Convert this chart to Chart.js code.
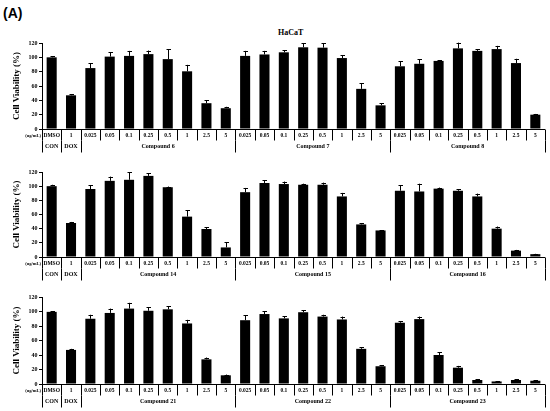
<!DOCTYPE html>
<html>
<head>
<meta charset="utf-8">
<script src="https://cdn.jsdelivr.net/npm/chart.js@4"></script>
<style>
  body { margin: 0; background: #fff; }
  #wrap { position: relative; width: 550px; height: 411px; overflow: hidden; background: #fff; }
  #wrap canvas { position: absolute; left: 0; }
  .lbl { position: absolute; white-space: nowrap; line-height: 1; color: #000; }
</style>
</head>
<body>
<div id="wrap">
  <div class="lbl" style="left:3px;top:5px;font:bold 14px 'Liberation Sans',Arial,sans-serif;">(A)</div>
  <div class="lbl" style="left:278px;top:28px;font:bold 8px 'Liberation Serif','Times New Roman',serif;">HaCaT</div>
  <canvas id="panel-1" width="550" height="117" style="top:36px"></canvas>
  <canvas id="panel-2" width="550" height="116" style="top:165px"></canvas>
  <canvas id="panel-3" width="550" height="118" style="top:290px"></canvas>
</div>
<script>
  const controlLabels = ['DMSO', '1'];
  const doseLabels = ['0.025', '0.05', '0.1', '0.25', '0.5', '1', '2.5', '5'];
  const yTicks = [0, 20, 40, 60, 80, 100, 120];

  const panel1Groups = ['CON', 'DOX', 'Compound 6', 'Compound 7', 'Compound 8'];
  const panel2Groups = ['CON', 'DOX', 'Compound 14', 'Compound 15', 'Compound 16'];
  const panel3Groups = ['CON', 'DOX', 'Compound 21', 'Compound 22', 'Compound 23'];

  // mean viability (%) per bar
  const panel1Values = [100, 47, 85, 101, 102, 104.5, 97.5, 80.5, 36, 29, 102, 104, 107, 114, 113.5, 99, 56, 33, 87.5, 91, 95, 112.5, 109, 111.5, 92, 20];
  const panel2Values = [100, 48, 96, 107.5, 109, 114.5, 98.5, 57, 39.5, 13.5, 91.5, 104.5, 103, 102, 102, 85.5, 46, 37.5, 93.5, 92.5, 96.5, 93.5, 85.5, 40, 9, 4];
  const panel3Values = [99.5, 47, 90, 98, 104, 101, 103, 83.5, 34, 12, 88, 96.5, 90.5, 99, 93, 89, 48.5, 24.5, 84.5, 89.5, 40, 22.5, 5.5, 3.5, 5.5, 4.5];

  // upper error bars
  const panel1Errors = [1.5, 1.5, 7, 6, 7, 5, 14, 9, 4, 2, 7, 5, 3, 6, 6, 4, 8, 3, 7, 6, 1, 8, 2, 4.5, 6, 1];
  const panel2Errors = [2, 1.5, 5, 6, 11, 4, 1, 9, 2.5, 7, 6, 4, 3.5, 1.5, 3, 5, 1.5, 0.5, 7.5, 11, 1.5, 2.5, 4, 3, 1, 0.5];
  const panel3Errors = [1, 1.5, 5.5, 6, 8, 5, 4, 5, 2.5, 1, 7, 4, 3, 3, 2.5, 4, 2.5, 1.5, 2, 3.5, 3.5, 2.5, 1, 0.5, 1, 1];

  const categories = controlLabels.concat(doseLabels, doseLabels, doseLabels);
  const SERIF = "'Liberation Serif', 'Times New Roman', serif";

  const errorBars = {
    id: 'errorBars',
    afterDatasetsDraw(chart, args, opts) {
      const { ctx } = chart;
      const y = chart.scales.y;
      const meta = chart.getDatasetMeta(0);
      const values = chart.data.datasets[0].data;
      ctx.save();
      ctx.strokeStyle = '#000';
      ctx.lineWidth = 1;
      meta.data.forEach((bar, i) => {
        const err = opts.errors[i];
        if (!err) return;
        const x = Math.round(bar.x) + 0.5;
        const top = y.getPixelForValue(values[i] + err);
        ctx.beginPath();
        ctx.moveTo(x, bar.y);
        ctx.lineTo(x, top);
        ctx.moveTo(x - 2, Math.round(top) + 0.5);
        ctx.lineTo(x + 2.5, Math.round(top) + 0.5);
        ctx.stroke();
      });
      ctx.restore();
    },
  };

  const doseTable = {
    id: 'doseTable',
    afterDraw(chart, args, opts) {
      const { ctx, chartArea } = chart;
      const x = chart.scales.x;
      const cell = (chartArea.right - chartArea.left) / categories.length;
      const edge = (i) => Math.round(chartArea.left + i * cell) + 0.5;
      const y0 = Math.round(chartArea.bottom) + 0.5;
      const row1 = y0 + 11;
      const row2 = y0 + 23;
      ctx.save();
      ctx.strokeStyle = '#000';
      ctx.fillStyle = '#000';
      ctx.lineWidth = 1;
      ctx.beginPath();
      ctx.moveTo(chartArea.left, y0);
      ctx.lineTo(chartArea.right, y0);
      for (let i = 0; i <= categories.length; i++) {
        ctx.moveTo(edge(i), y0);
        ctx.lineTo(edge(i), row1);
      }
      [0, 1, 2, 10, 18, 26].forEach((i) => {
        ctx.moveTo(edge(i), row1);
        ctx.lineTo(edge(i), row2);
      });
      ctx.stroke();

      ctx.textAlign = 'center';
      ctx.textBaseline = 'middle';
      ctx.font = `bold 5.5px ${SERIF}`;
      categories.forEach((label, i) => {
        ctx.fillText(label, x.getPixelForValue(i), y0 + 6);
      });
      ctx.font = `bold 6px ${SERIF}`;
      const spans = [[0, 1], [1, 2], [2, 10], [10, 18], [18, 26]];
      opts.groups.forEach((label, g) => {
        const [a, b] = spans[g];
        ctx.fillText(label, chartArea.left + ((a + b) / 2) * cell, y0 + 17);
      });
      ctx.textAlign = 'right';
      ctx.font = `bold 4.5px ${SERIF}`;
      ctx.fillText('(ug/mL)', chartArea.left - 1, y0 + 6);
      ctx.restore();
    },
  };

  function makePanel(id, values, errors, groups) {
    new Chart(document.getElementById(id), {
      type: 'bar',
      data: {
        labels: categories,
        datasets: [{
          data: values,
          backgroundColor: '#000',
          borderWidth: 0,
          categoryPercentage: 1,
          barPercentage: 0.52,
        }],
      },
      options: {
        responsive: false,
        animation: false,
        devicePixelRatio: 1,
        layout: { padding: { top: 7, bottom: 24, left: 0, right: 5 } },
        plugins: {
          legend: { display: false },
          tooltip: { enabled: false },
          errorBars: { errors },
          doseTable: { groups },
        },
        scales: {
          x: { display: false, offset: true },
          y: {
            min: 0,
            max: 120,
            afterBuildTicks: (scale) => { scale.ticks = yTicks.map((v) => ({ value: v })); },
            afterFit: (scale) => { scale.width = 42; },
            border: { color: '#000', width: 1 },
            grid: { drawOnChartArea: false, drawTicks: true, tickLength: 3, color: '#000' },
            ticks: { color: '#000', padding: 1.5, font: { family: SERIF, size: 6, weight: 'bold' } },
            title: {
              display: true,
              text: 'Cell Viability (%)',
              color: '#000',
              font: { family: SERIF, size: 9, weight: 'bold' },
              padding: { top: 11, bottom: 0 },
            },
          },
        },
      },
      plugins: [errorBars, doseTable],
    });
  }

  makePanel('panel-1', panel1Values, panel1Errors, panel1Groups);
  makePanel('panel-2', panel2Values, panel2Errors, panel2Groups);
  makePanel('panel-3', panel3Values, panel3Errors, panel3Groups);
</script>
</body>
</html>
